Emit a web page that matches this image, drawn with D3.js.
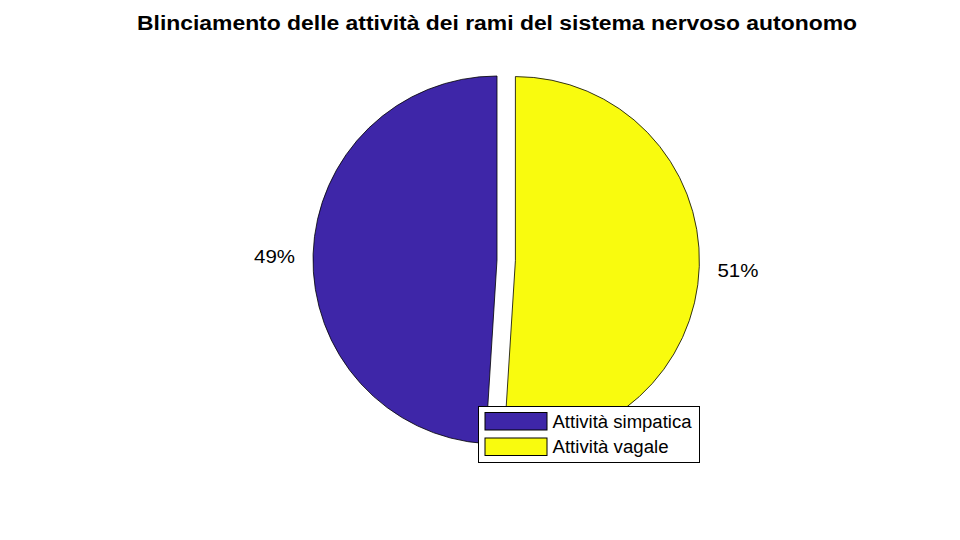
<!DOCTYPE html>
<meta charset="utf-8">
<style>
body { margin: 0; background: #fff; }
text { font-family: "Liberation Sans", Arial, sans-serif; fill: #000; }
.title { font-weight: bold; font-size: 20px; }
.pct { font-size: 19px; }
.legend text { font-size: 18px; }
</style>
<body>
<div id="chart"></div>
<script src="https://d3js.org/d3.v7.min.js"></script>
<script>
// data
var labels = ["Attività simpatica", "Attività vagale"];
var values = [49, 51];
var explode = [0, 1];
var colors = ["#3E26A8", "#F9FB0E"];
var title = "Blinciamento delle attività dei rami del sistema nervoso autonomo";

var width = 960, height = 540;
var cx = 497, cy = 260, r = 184;

var svg = d3.select("#chart").append("svg")
    .attr("width", width)
    .attr("height", height);

// title (matlab renders it a bit wider)
svg.append("text").attr("class", "title")
    .attr("x", cx).attr("y", 30)
    .attr("text-anchor", "middle")
    .attr("textLength", 720).attr("lengthAdjust", "spacingAndGlyphs")
    .text(title);

// pie goes counterclockwise from the top like matlab
var pie = d3.pie().sort(null).startAngle(0).endAngle(-2 * Math.PI);
var arcs = pie(values);
var total = d3.sum(values);

var arc = d3.arc().innerRadius(0).outerRadius(r);

var g = svg.append("g").attr("transform", "translate(" + cx + "," + cy + ")");

var slice = g.selectAll(".slice").data(arcs).enter().append("g")
    .attr("class", "slice")
    .attr("transform", function(d, i) {
      var a = (d.startAngle + d.endAngle) / 2;
      var off = explode[i] ? 0.1 * r : 0;
      return "translate(" + (off * Math.sin(a)) + "," + (-off * Math.cos(a)) + ")";
    });

slice.append("path")
    .attr("d", arc)
    .attr("fill", function(d, i) { return colors[i]; })
    .attr("stroke", "#000")
    .attr("stroke-width", 0.8);

slice.append("text").attr("class", "pct")
    .attr("x", function(d) { return 1.21 * r * Math.sin((d.startAngle + d.endAngle) / 2); })
    .attr("y", function(d) { return -1.21 * r * Math.cos((d.startAngle + d.endAngle) / 2) + 3; })
    .attr("text-anchor", "middle")
    .attr("dy", "0.35em")
    .attr("textLength", 41).attr("lengthAdjust", "spacingAndGlyphs")
    .text(function(d) { return Math.round(d.value / total * 100) + "%"; });

// legend
var lg = svg.append("g").attr("class", "legend").attr("transform", "translate(478.5,406.5)");
lg.append("rect")
    .attr("width", 221).attr("height", 56)
    .attr("fill", "#fff").attr("stroke", "#000").attr("stroke-width", 1);

var textW = [139, 116];
var item = lg.selectAll(".item").data(labels).enter().append("g")
    .attr("transform", function(d, i) { return "translate(0," + (i * 25.5) + ")"; });

item.append("rect")
    .attr("x", 6.5).attr("y", 6)
    .attr("width", 62).attr("height", 17.5)
    .attr("fill", function(d, i) { return colors[i]; })
    .attr("stroke", "#000").attr("stroke-width", 1);

item.append("text")
    .attr("x", 74).attr("y", 15)
    .attr("dy", "0.35em")
    .attr("textLength", function(d, i) { return textW[i]; })
    .attr("lengthAdjust", "spacingAndGlyphs")
    .text(function(d) { return d; });
</script>
</body>
